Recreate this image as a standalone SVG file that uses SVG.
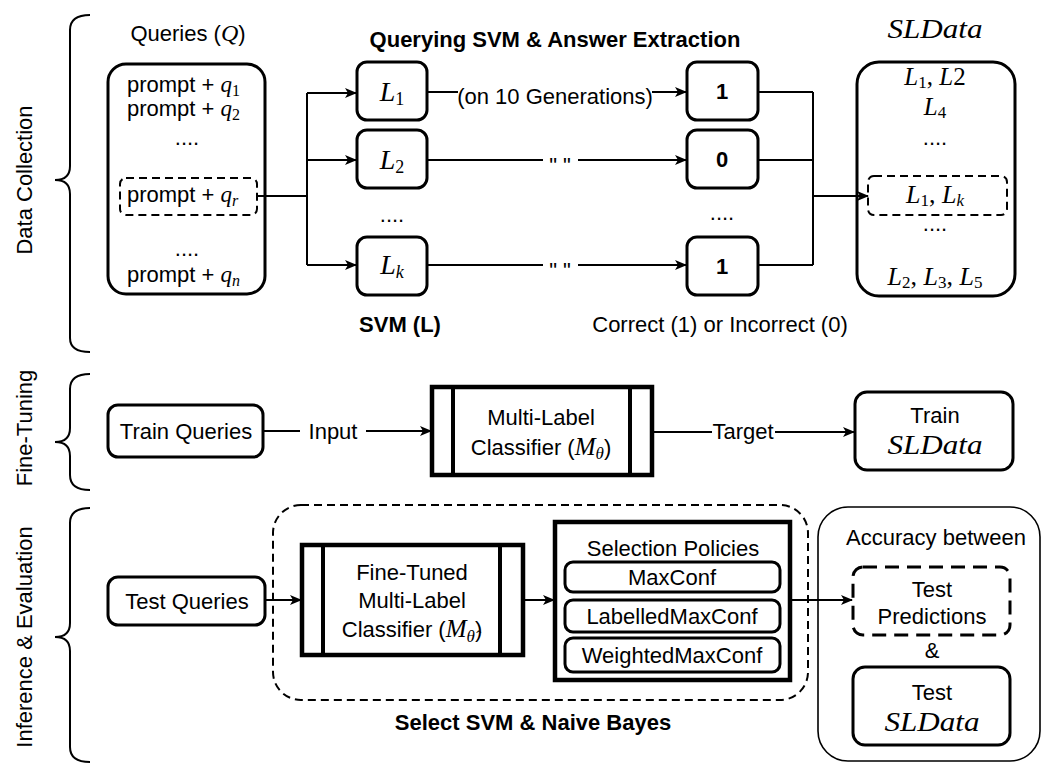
<svg xmlns="http://www.w3.org/2000/svg" width="1042" height="763" viewBox="0 0 1042 763">
<style>
.t{font-family:"Liberation Sans",Arial,sans-serif;font-size:22px;fill:#000}
.b{font-weight:bold}
.m{font-family:"Liberation Serif","Times New Roman",serif;font-style:italic}
.n{font-family:"Liberation Serif","Times New Roman",serif;font-style:normal}
.box{fill:#fff;stroke:#000;stroke-width:3}
.thick{stroke-width:4.5}
.thin{stroke-width:1.6}
.dash{stroke-dasharray:8 5}
.ldash{stroke-dasharray:14 8}
.line{fill:none;stroke:#000;stroke-width:2}
.brace{fill:none;stroke:#000;stroke-width:2}
</style>
<defs>
<marker id="arr" viewBox="0 0 12 10" refX="11" refY="5" markerWidth="12" markerHeight="10" markerUnits="userSpaceOnUse" orient="auto">
<path d="M0,0 L12,5 L0,10 L3,5 Z" fill="#000"/>
</marker>
</defs>
<rect width="1042" height="763" fill="#fff"/>

<g id="sections">
<path class="brace" d="M90,15 Q70,15 70,30 L70,166 Q70,180 55,180 Q70,180 70,194 L70,338 Q70,352 90,352"/>
<text class="t" font-size="23" text-anchor="middle" transform="translate(24,180) rotate(-90)" y="8">Data Collection</text>
<path class="brace" d="M90,374 Q70,374 70,389 L70,428 Q70,442 55,442 Q70,442 70,456 L70,475 Q70,490 90,490"/>
<text class="t" font-size="23" text-anchor="middle" transform="translate(24,428) rotate(-90)" y="8">Fine-Tuning</text>
<path class="brace" d="M90,508 Q70,508 70,523 L70,623 Q70,637 55,637 Q70,637 70,651 L70,747 Q70,762 90,762"/>
<text class="t" font-size="23" text-anchor="middle" transform="translate(24,637) rotate(-90)" y="8">Inference &amp; Evaluation</text>
</g>

<g id="queries">
<text class="t" x="188" y="41" text-anchor="middle">Queries (<tspan class="m" font-size="24">Q</tspan>)</text>
<rect class="box" x="108" y="64" width="157" height="230" rx="18"/>
<text class="t" font-size="20" x="127" y="92">prompt + <tspan class="m" font-size="23">q</tspan><tspan class="n" font-size="16" dy="4">1</tspan></text>
<text class="t" font-size="20" x="127" y="116">prompt + <tspan class="m" font-size="23">q</tspan><tspan class="n" font-size="16" dy="4">2</tspan></text>
<text class="t" font-size="20" x="187" y="145" text-anchor="middle">....</text>
<rect x="120" y="178" width="137" height="37" rx="6" fill="none" stroke="#000" stroke-width="2" class="dash"/>
<text class="t" font-size="20" x="127" y="202">prompt + <tspan class="m" font-size="23">q</tspan><tspan class="m" font-size="16" dy="4">r</tspan></text>
<text class="t" font-size="20" x="187" y="256" text-anchor="middle">....</text>
<text class="t" font-size="20" x="127" y="282">prompt + <tspan class="m" font-size="23">q</tspan><tspan class="m" font-size="16" dy="4">n</tspan></text>
</g>

<g id="svm">
<text class="t b" font-size="22.5" x="555" y="47" text-anchor="middle">Querying SVM &amp; Answer Extraction</text>
<rect class="box" x="357" y="62" width="70" height="58" rx="10"/>
<text x="392" y="101" text-anchor="middle"><tspan class="m" font-size="28">L</tspan><tspan class="n" font-size="18" dy="4">1</tspan></text>
<rect class="box" x="357" y="130" width="70" height="58" rx="10"/>
<text x="392" y="169" text-anchor="middle"><tspan class="m" font-size="28">L</tspan><tspan class="n" font-size="18" dy="4">2</tspan></text>
<text class="t" font-size="20" x="392" y="222" text-anchor="middle">....</text>
<rect class="box" x="357" y="237" width="70" height="58" rx="10"/>
<text x="392" y="274" text-anchor="middle"><tspan class="m" font-size="28">L</tspan><tspan class="m" font-size="18" dy="4">k</tspan></text>
<text class="t b" x="400" y="332" text-anchor="middle">SVM (L)</text>
</g>

<g id="results">
<rect class="box" x="687" y="62" width="71" height="58" rx="10"/>
<text class="t b" x="722" y="99" text-anchor="middle">1</text>
<rect class="box" x="687" y="130" width="71" height="58" rx="10"/>
<text class="t b" x="722" y="167" text-anchor="middle">0</text>
<text class="t" font-size="20" x="722" y="220" text-anchor="middle">....</text>
<rect class="box" x="687" y="237" width="71" height="58" rx="10"/>
<text class="t b" x="722" y="274" text-anchor="middle">1</text>
<text class="t" x="720" y="332" text-anchor="middle">Correct (1) or Incorrect (0)</text>
</g>

<g id="sldata">
<text class="m" font-size="27" x="935" y="38" text-anchor="middle" textLength="95" lengthAdjust="spacingAndGlyphs">SLData</text>
<rect class="box" x="857" y="62" width="158" height="234" rx="22"/>
<text x="935" y="85" text-anchor="middle"><tspan class="m" font-size="25">L</tspan><tspan class="n" font-size="17" dy="3">1</tspan><tspan class="n" font-size="25" dy="-3">, </tspan><tspan class="m" font-size="25">L</tspan><tspan class="n" font-size="25">2</tspan></text>
<text x="935" y="115" text-anchor="middle"><tspan class="m" font-size="25">L</tspan><tspan class="n" font-size="17" dy="3">4</tspan></text>
<text class="t" font-size="20" x="935" y="145" text-anchor="middle">....</text>
<rect x="868" y="176" width="139" height="39" rx="6" fill="none" stroke="#000" stroke-width="2" class="dash"/>
<text x="935" y="203" text-anchor="middle"><tspan class="m" font-size="26">L</tspan><tspan class="n" font-size="17" dy="3">1</tspan><tspan class="n" font-size="26" dy="-3">, </tspan><tspan class="m" font-size="26">L</tspan><tspan class="m" font-size="17" dy="3">k</tspan></text>
<text class="t" font-size="20" x="935" y="231" text-anchor="middle">....</text>
<text x="935" y="285" text-anchor="middle"><tspan class="m" font-size="26">L</tspan><tspan class="n" font-size="17" dy="3">2</tspan><tspan class="n" font-size="26" dy="-3">, </tspan><tspan class="m" font-size="26">L</tspan><tspan class="n" font-size="17" dy="3">3</tspan><tspan class="n" font-size="26" dy="-3">, </tspan><tspan class="m" font-size="26">L</tspan><tspan class="n" font-size="17" dy="3">5</tspan></text>
</g>

<g id="train-queries">
<rect class="box" x="108" y="405" width="155" height="52" rx="10"/>
<text class="t" font-size="22.5" x="186" y="439" text-anchor="middle">Train Queries</text>
</g>

<g id="classifier">
<rect class="box thick" x="432" y="387" width="220" height="88"/>
<path d="M453,387 V475 M630,387 V475" stroke="#000" stroke-width="4"/>
<text class="t" x="541" y="425" text-anchor="middle">Multi-Label</text>
<text class="t" x="541" y="455" text-anchor="middle">Classifier (<tspan class="m" font-size="25">M</tspan><tspan class="m" font-size="17" dy="4">θ</tspan><tspan dy="-4">)</tspan></text>
</g>

<g id="train-sldata">
<rect class="box" x="855" y="392" width="158" height="78" rx="12"/>
<text class="t" x="935" y="423" text-anchor="middle">Train</text>
<text class="m" font-size="27" x="935" y="454" text-anchor="middle" textLength="95" lengthAdjust="spacingAndGlyphs">SLData</text>
</g>

<g id="test-queries">
<rect class="box" x="108" y="577" width="157" height="48" rx="10"/>
<text class="t" x="187" y="609" text-anchor="middle">Test Queries</text>
</g>

<g id="select-group">
<rect x="273" y="505" width="535" height="195" rx="28" fill="none" stroke="#000" stroke-width="2" class="dash"/>
<text class="t b" x="533" y="730" text-anchor="middle">Select SVM &amp; Naive Bayes</text>
</g>

<g id="ft-classifier">
<rect class="box thick" x="302" y="545" width="221" height="110"/>
<path d="M323,545 V655 M500,545 V655" stroke="#000" stroke-width="4"/>
<text class="t" x="412" y="580" text-anchor="middle">Fine-Tuned</text>
<text class="t" x="412" y="608" text-anchor="middle">Multi-Label</text>
<text class="t" x="412" y="637" text-anchor="middle">Classifier (<tspan class="m" font-size="25">M</tspan><tspan class="m" font-size="17" dy="5">θ̂</tspan><tspan dy="-5">)</tspan></text>
</g>

<g id="selection-policies">
<rect class="box thick" x="555" y="522" width="235" height="158"/>
<text class="t" x="673" y="556" text-anchor="middle">Selection Policies</text>
<rect class="box" x="565" y="562" width="215" height="30" rx="8"/>
<text class="t" x="672" y="585" text-anchor="middle">MaxConf</text>
<rect class="box" x="565" y="600" width="215" height="32" rx="8"/>
<text class="t" x="672" y="624" text-anchor="middle">LabelledMaxConf</text>
<rect class="box" x="565" y="638" width="215" height="34" rx="8"/>
<text class="t" x="672" y="663" text-anchor="middle">WeightedMaxConf</text>
</g>

<g id="accuracy">
<rect class="box thin" x="818" y="507" width="222" height="254" rx="30"/>
<text class="t" x="936" y="545" text-anchor="middle">Accuracy between</text>
<rect class="box ldash" x="853" y="567" width="157" height="68" rx="10"/>
<text class="t" x="932" y="597" text-anchor="middle">Test</text>
<text class="t" x="932" y="624" text-anchor="middle">Predictions</text>
<text class="t" x="932" y="658" text-anchor="middle">&amp;</text>
<rect class="box" x="853" y="667" width="157" height="78" rx="12"/>
<text class="t" x="932" y="700" text-anchor="middle">Test</text>
<text class="m" font-size="27" x="932" y="731" text-anchor="middle" textLength="95" lengthAdjust="spacingAndGlyphs">SLData</text>
</g>

<g id="connectors">
<path class="line" d="M258,196 H307 M307,93 V265"/>
<path class="line" d="M307,93 H356" marker-end="url(#arr)"/>
<path class="line" d="M307,160 H356" marker-end="url(#arr)"/>
<path class="line" d="M307,265 H356" marker-end="url(#arr)"/>
<path class="line" d="M427,92 H458"/>
<path class="line" d="M652,92 H686" marker-end="url(#arr)"/>
<path class="line" d="M427,160 H543"/>
<path class="line" d="M578,160 H686" marker-end="url(#arr)"/>
<path class="line" d="M427,265 H543"/>
<path class="line" d="M578,265 H686" marker-end="url(#arr)"/>
<path class="line" d="M758,92 H813 M758,160 H813 M758,265 H813 M813,92 V265"/>
<path class="line" d="M813,196 H868" marker-end="url(#arr)"/>
<text class="t" font-size="21" x="555" y="104" text-anchor="middle">(on 10 Generations)</text>
<text class="t" x="560" y="173" text-anchor="middle">" "</text>
<text class="t" x="560" y="278" text-anchor="middle">" "</text>
<path class="line" d="M263,431 H300"/>
<path class="line" d="M366,431 H431" marker-end="url(#arr)"/>
<text class="t" x="333" y="439" text-anchor="middle">Input</text>
<path class="line" d="M652,432 H712"/>
<path class="line" d="M775,432 H854" marker-end="url(#arr)"/>
<text class="t" x="743" y="439" text-anchor="middle">Target</text>
<path class="line" d="M265,600 H301" marker-end="url(#arr)"/>
<path class="line" d="M523,600 H554" marker-end="url(#arr)"/>
<path class="line" d="M790,600 H852" marker-end="url(#arr)"/>
</g>
</svg>
